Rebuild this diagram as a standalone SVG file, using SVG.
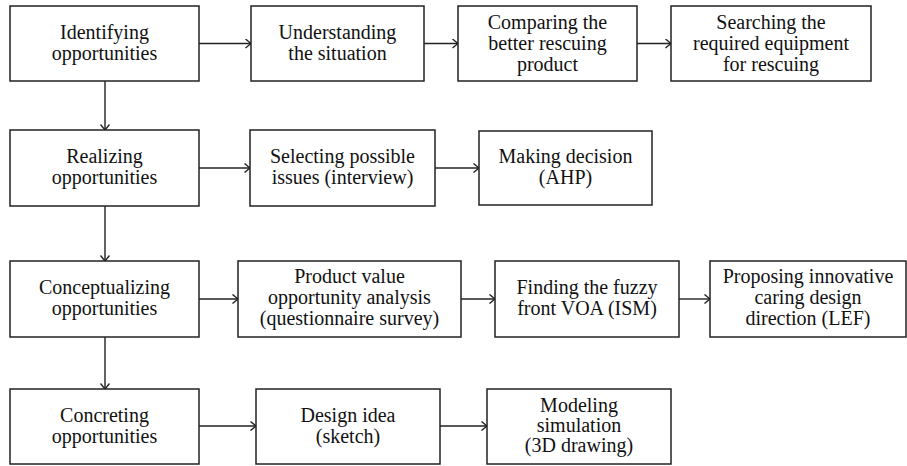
<svg xmlns="http://www.w3.org/2000/svg" width="907" height="466" viewBox="0 0 907 466">
<defs>
<style>
rect{fill:#fff;stroke:#222;stroke-width:1.5}
text{font-size:20px;fill:#111;text-anchor:middle}
.c line{stroke:#222;stroke-width:1.4;fill:none}
</style>
<marker id="a" viewBox="0 0 10 10" refX="9.5" refY="5" markerWidth="10" markerHeight="10" markerUnits="userSpaceOnUse" orient="auto">
<path d="M4,0.5 L9.5,5 L4,9.5" fill="none" stroke="#222" stroke-width="1.4"/>
</marker>
</defs>
<rect x="0" y="0" width="907" height="466" style="stroke:none;fill:#fff"/>
<g class="c">
<line x1="199" y1="43.5" x2="251" y2="43.5" marker-end="url(#a)"/>
<line x1="424" y1="43.5" x2="458" y2="43.5" marker-end="url(#a)"/>
<line x1="637" y1="43.5" x2="671" y2="43.5" marker-end="url(#a)"/>
<line x1="199" y1="168" x2="250" y2="168" marker-end="url(#a)"/>
<line x1="435" y1="168" x2="479" y2="168" marker-end="url(#a)"/>
<line x1="199" y1="299" x2="238" y2="299" marker-end="url(#a)"/>
<line x1="461" y1="299" x2="495" y2="299" marker-end="url(#a)"/>
<line x1="679" y1="299" x2="710" y2="299" marker-end="url(#a)"/>
<line x1="199" y1="426" x2="256" y2="426" marker-end="url(#a)"/>
<line x1="440" y1="426" x2="487" y2="426" marker-end="url(#a)"/>
<line x1="105" y1="81" x2="105" y2="130" marker-end="url(#a)"/>
<line x1="105" y1="206" x2="105" y2="261" marker-end="url(#a)"/>
<line x1="105" y1="337" x2="105" y2="389" marker-end="url(#a)"/>
</g>
<g font-family="Liberation Serif, serif">
<g id="n1"><rect x="10" y="6" width="189" height="75"/><text x="104.5" y="39">Identifying</text><text x="104.5" y="60">opportunities</text></g>
<g id="n2"><rect x="251" y="6" width="173" height="75"/><text x="337.5" y="39">Understanding</text><text x="337.5" y="60">the situation</text></g>
<g id="n3"><rect x="458" y="6" width="179" height="75"/><text x="547.5" y="29">Comparing the</text><text x="547.5" y="50">better rescuing</text><text x="547.5" y="71">product</text></g>
<g id="n4"><rect x="671" y="6" width="200" height="75"/><text x="771" y="29">Searching the</text><text x="771" y="50">required equipment</text><text x="771" y="71">for rescuing</text></g>
<g id="n5"><rect x="10" y="130" width="189" height="76"/><text x="104.5" y="163">Realizing</text><text x="104.5" y="184">opportunities</text></g>
<g id="n6"><rect x="250" y="130" width="185" height="76"/><text x="342.5" y="163">Selecting possible</text><text x="342.5" y="184">issues (interview)</text></g>
<g id="n7"><rect x="479" y="131" width="173" height="74"/><text x="565.5" y="163">Making decision</text><text x="565.5" y="184">(AHP)</text></g>
<g id="n8"><rect x="10" y="261" width="189" height="76"/><text x="104.5" y="294">Conceptualizing</text><text x="104.5" y="315">opportunities</text></g>
<g id="n9"><rect x="238" y="261" width="223" height="76"/><text x="349.5" y="283">Product value</text><text x="349.5" y="304">opportunity analysis</text><text x="349.5" y="325">(questionnaire survey)</text></g>
<g id="n10"><rect x="495" y="261" width="184" height="76"/><text x="587" y="294">Finding the fuzzy</text><text x="587" y="315">front VOA (ISM)</text></g>
<g id="n11"><rect x="710" y="261" width="196" height="76"/><text x="808" y="283">Proposing innovative</text><text x="808" y="304">caring design</text><text x="808" y="325">direction (LEF)</text></g>
<g id="n12"><rect x="10" y="389" width="189" height="75"/><text x="104.5" y="422">Concreting</text><text x="104.5" y="443">opportunities</text></g>
<g id="n13"><rect x="256" y="389" width="184" height="75"/><text x="348" y="422">Design idea</text><text x="348" y="443">(sketch)</text></g>
<g id="n14"><rect x="487" y="389" width="184" height="75"/><text x="579" y="412">Modeling</text><text x="579" y="432">simulation</text><text x="579" y="452">(3D drawing)</text></g>
</g>
</svg>
